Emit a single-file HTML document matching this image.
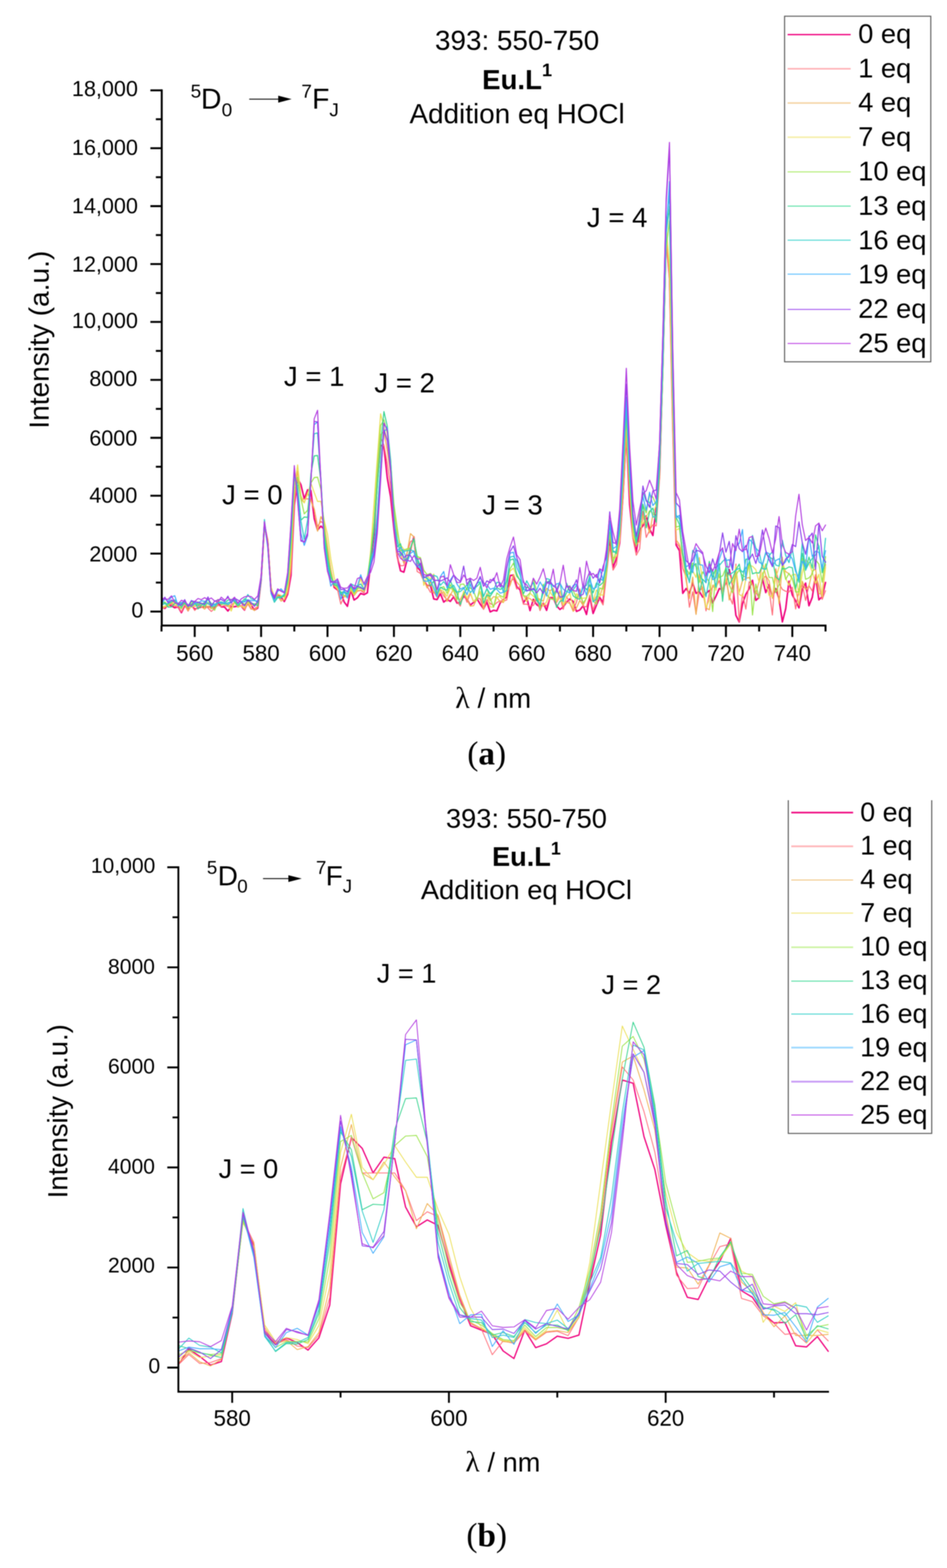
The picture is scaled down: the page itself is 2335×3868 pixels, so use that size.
<!DOCTYPE html>
<html lang="en"><head><meta charset="utf-8"><title>Figure</title>
<style>html,body{margin:0;padding:0;background:#fff}body{width:2335px;height:3868px;overflow:hidden}svg{display:block;filter:blur(0.9px)}text{white-space:pre}</style></head><body>
<svg width="2335" height="3868" viewBox="0 0 2335 3868">
<rect width="2335" height="3868" fill="#fff"/>
<clipPath id="clipA"><rect x="398.8" y="22.8" width="1639" height="1520.4"/></clipPath>
<g clip-path="url(#clipA)" fill="none" stroke-linejoin="round" stroke-linecap="round">
<polyline points="398.2,1496 406.4,1500.9 414.6,1491.6 422.8,1494.7 430.9,1499.2 439.1,1497.2 447.3,1511.3 455.5,1494.2 463.7,1501.4 471.9,1493.9 480.1,1502.5 488.3,1500 496.4,1497.5 504.6,1497.2 512.8,1497.1 521,1496.9 529.2,1501 537.4,1486.6 545.6,1497.1 553.7,1497.4 561.9,1507.3 570.1,1496.3 578.3,1496.6 586.5,1495.2 594.7,1494.9 602.9,1505 611,1482.2 619.2,1492.5 627.4,1505 635.6,1500 643.8,1431.5 652,1295 660.2,1335.7 668.4,1458.6 676.5,1475.7 684.7,1466.2 692.9,1472.9 701.1,1483.7 709.3,1466.2 717.5,1419.4 725.7,1246.2 733.8,1180 742,1195.6 750.2,1230.6 758.4,1208.3 766.6,1210.2 774.8,1279.3 783,1307.6 791.2,1297.8 799.3,1305.5 807.5,1361 815.7,1410 823.9,1449 832.1,1455.2 840.3,1461.5 848.5,1484.8 856.6,1495.7 864.8,1455.2 873,1480.1 881.2,1474.7 889.4,1463.7 897.6,1466.9 905.8,1462.2 913.9,1388.2 922.1,1319.3 930.3,1187.1 938.5,1098 946.7,1102.6 954.9,1178.9 963.1,1225.6 971.3,1305 979.4,1372.4 987.6,1408.2 995.8,1411.4 1004,1380.2 1012.2,1356.9 1020.4,1324.2 1028.6,1398.9 1036.7,1408.2 1044.9,1431.6 1053.1,1444.8 1061.3,1444 1069.5,1477.5 1077.7,1479.1 1085.9,1464.3 1094.1,1485.3 1102.2,1478.8 1110.4,1483.5 1118.6,1472.4 1126.8,1487.8 1135,1486.5 1143.2,1470.9 1151.4,1477.8 1159.5,1492.7 1167.7,1485.9 1175.9,1476.7 1184.1,1490.5 1192.3,1501.5 1200.5,1485.3 1208.7,1509.5 1216.9,1505.4 1225,1507 1233.2,1487.4 1241.4,1478.5 1249.6,1473 1257.8,1420 1266,1418.4 1274.2,1447.6 1282.3,1454.9 1290.5,1487.3 1298.7,1474 1306.9,1506.3 1315.1,1478.3 1323.3,1491.7 1331.5,1497 1339.6,1487.8 1347.8,1505.6 1356,1474.1 1364.2,1474.5 1372.4,1494.5 1380.6,1503.5 1388.8,1497.2 1397,1485.3 1405.1,1477.6 1413.3,1483.6 1421.5,1508.3 1429.7,1504.7 1437.9,1494.3 1446.1,1515.7 1454.3,1471.5 1462.4,1513.3 1470.6,1493 1478.8,1473.7 1487,1486.6 1495.2,1397.4 1503.4,1327.8 1511.6,1399.7 1519.8,1378 1527.9,1339.6 1536.1,1220.2 1544.3,1069 1552.5,1245 1560.7,1324.7 1568.9,1361.7 1577.1,1306.9 1585.2,1297.1 1593.4,1272.6 1601.6,1304.3 1609.8,1321 1618,1251.3 1626.2,1173.1 1634.4,898.3 1642.5,587.1 1650.7,679.2 1658.9,1046.3 1667.1,1344.4 1675.3,1358.6 1683.5,1463.7 1691.7,1451.9 1699.9,1463.7 1708,1437.8 1716.2,1463.7 1724.4,1459 1732.6,1473.1 1740.8,1463.7 1749,1456.6 1757.2,1487.2 1765.3,1470.7 1773.5,1451.9 1781.7,1454.3 1789.9,1437.8 1798.1,1404.8 1806.3,1442.5 1814.5,1517.8 1822.7,1534.3 1830.8,1489.6 1839,1466 1847.2,1452.3 1855.4,1431.6 1863.6,1481 1871.8,1473.7 1880,1427.6 1888.1,1461.8 1896.3,1442.5 1904.5,1472 1912.7,1451.9 1920.9,1477.6 1929.1,1534.1 1937.3,1501.5 1945.4,1433.7 1953.6,1467.7 1961.8,1482.1 1970,1499.5 1978.2,1453.8 1986.4,1438.5 1994.6,1494.3 2002.8,1473.5 2010.9,1421.5 2019.1,1479.7 2027.3,1471.6 2035.5,1436.8" stroke="#f0047f" stroke-width="3.9" stroke-opacity="1"/>
<polyline points="398.2,1501.6 406.4,1498.9 414.6,1490.7 422.8,1490.5 430.9,1494.9 439.1,1498.4 447.3,1509.1 455.5,1492.6 463.7,1507.5 471.9,1493.1 480.1,1505.9 488.3,1497 496.4,1491.6 504.6,1490.7 512.8,1500 521,1508.4 529.2,1500.7 537.4,1493 545.6,1496.2 553.7,1493.5 561.9,1496.1 570.1,1492 578.3,1486.3 586.5,1497.8 594.7,1485.1 602.9,1505 611,1489.9 619.2,1502.7 627.4,1501.5 635.6,1495.7 643.8,1430 652,1297.9 660.2,1330 668.4,1455 676.5,1472.9 684.7,1468.6 692.9,1477.9 701.1,1480 709.3,1462.2 717.5,1408.6 725.7,1237.1 733.8,1180 742,1230.6 750.2,1230.7 758.4,1230.7 766.6,1230.7 774.8,1255.9 783,1298.8 791.2,1286.2 799.3,1292.9 807.5,1355 815.7,1408.6 823.9,1445.9 832.1,1453.6 840.3,1490.2 848.5,1470.7 856.6,1473.9 864.8,1456.5 873,1469.2 881.2,1458.3 889.4,1456.7 897.6,1463 905.8,1436.5 913.9,1383.6 922.1,1301.4 930.3,1172.9 938.5,1079.3 946.7,1098 954.9,1143.1 963.1,1200.7 971.3,1294.3 979.4,1376.4 987.6,1395.8 995.8,1395 1004,1363.1 1012.2,1335.9 1020.4,1331.9 1028.6,1409.8 1036.7,1414.4 1044.9,1434.7 1053.1,1445.6 1061.3,1461.2 1069.5,1459.6 1077.7,1473.6 1085.9,1455 1094.1,1470.5 1102.2,1479.6 1110.4,1465.5 1118.6,1471 1126.8,1483.8 1135,1494.9 1143.2,1464.2 1151.4,1485.6 1159.5,1463.5 1167.7,1484.9 1175.9,1474.9 1184.1,1477.3 1192.3,1503.3 1200.5,1479.3 1208.7,1488.4 1216.9,1493.7 1225,1486.7 1233.2,1482.3 1241.4,1483 1249.6,1479.7 1257.8,1434.7 1266,1427.9 1274.2,1453 1282.3,1446.4 1290.5,1490.4 1298.7,1490.3 1306.9,1495.6 1315.1,1493.6 1323.3,1477.8 1331.5,1506.2 1339.6,1487.1 1347.8,1495.5 1356,1475 1364.2,1478.9 1372.4,1486.1 1380.6,1471.8 1388.8,1503.2 1397,1471.3 1405.1,1487.5 1413.3,1505.2 1421.5,1484.9 1429.7,1452.9 1437.9,1496.3 1446.1,1496.9 1454.3,1468.2 1462.4,1505 1470.6,1479 1478.8,1478 1487,1492.3 1495.2,1419.8 1503.4,1347.5 1511.6,1406.4 1519.8,1392.2 1527.9,1334.5 1536.1,1228.5 1544.3,1080 1552.5,1220.6 1560.7,1329.8 1568.9,1369.6 1577.1,1354 1585.2,1261.5 1593.4,1325.6 1601.6,1308.2 1609.8,1294.4 1618,1297.3 1626.2,1182 1634.4,917.1 1642.5,601.4 1650.7,692.1 1658.9,1054.4 1667.1,1338.8 1675.3,1348.3 1683.5,1402.5 1691.7,1422.8 1699.9,1498 1708,1459.9 1716.2,1514.3 1724.4,1459.1 1732.6,1448 1740.8,1506.9 1749,1462.4 1757.2,1447.2 1765.3,1449.5 1773.5,1432 1781.7,1473.5 1789.9,1428.9 1798.1,1470.3 1806.3,1490.2 1814.5,1391.6 1822.7,1533.6 1830.8,1464.7 1839,1502.6 1847.2,1435.4 1855.4,1441.3 1863.6,1459.8 1871.8,1476.4 1880,1428.4 1888.1,1420.9 1896.3,1453.2 1904.5,1517.2 1912.7,1403.4 1920.9,1439.4 1929.1,1454.2 1937.3,1458.6 1945.4,1460.8 1953.6,1448.5 1961.8,1502.2 1970,1453.4 1978.2,1442 1986.4,1481.2 1994.6,1444.3 2002.8,1458 2010.9,1417.3 2019.1,1444.8 2027.3,1478.6 2035.5,1457.1" stroke="#ff6e7a" stroke-width="2.6" stroke-opacity="1"/>
<polyline points="398.2,1498 406.4,1497.8 414.6,1495 422.8,1486.6 430.9,1494.5 439.1,1492.7 447.3,1493 455.5,1488.1 463.7,1506.1 471.9,1490.7 480.1,1496 488.3,1491.3 496.4,1496.6 504.6,1502.6 512.8,1494.9 521,1502.1 529.2,1495.7 537.4,1478.5 545.6,1490 553.7,1486 561.9,1490.3 570.1,1501.8 578.3,1483 586.5,1498 594.7,1494.9 602.9,1502.7 611,1487.5 619.2,1500.4 627.4,1506.2 635.6,1496.9 643.8,1428.6 652,1301.4 660.2,1331.4 668.4,1451.5 676.5,1474.3 684.7,1470 692.9,1482.9 701.1,1478.6 709.3,1458.6 717.5,1394.3 725.7,1222.9 733.8,1161.6 742,1230.6 750.2,1240.4 758.4,1215.1 766.6,1236.5 774.8,1255.9 783,1310.4 791.2,1274.4 799.3,1291 807.5,1347.9 815.7,1405 823.9,1444.3 832.1,1452.9 840.3,1462.9 848.5,1471.5 856.6,1472.9 864.8,1454.3 873,1468.6 881.2,1457.2 889.4,1455.7 897.6,1458.6 905.8,1437.2 913.9,1380 922.1,1297.9 930.3,1169.3 938.5,1072.3 946.7,1063.7 954.9,1112 963.1,1169.3 971.3,1287.2 979.4,1365.4 987.6,1366.2 995.8,1389.5 1004,1362.2 1012.2,1316.4 1020.4,1324.2 1028.6,1386.4 1036.7,1400.4 1044.9,1430 1053.1,1450.2 1061.3,1434.7 1069.5,1462.7 1077.7,1462.7 1085.9,1462.7 1094.1,1461.2 1102.2,1483.7 1110.4,1468.7 1118.6,1451.7 1126.8,1475.8 1135,1479.1 1143.2,1461.5 1151.4,1476.5 1159.5,1495.2 1167.7,1494.2 1175.9,1476.8 1184.1,1459.6 1192.3,1501.4 1200.5,1464 1208.7,1481.9 1216.9,1471.8 1225,1473.2 1233.2,1484.5 1241.4,1486.3 1249.6,1457.3 1257.8,1443.8 1266,1417 1274.2,1436 1282.3,1444.8 1290.5,1469.5 1298.7,1475.5 1306.9,1476.5 1315.1,1484.3 1323.3,1474.9 1331.5,1478.5 1339.6,1483.1 1347.8,1451 1356,1457.7 1364.2,1451.1 1372.4,1485.4 1380.6,1457.3 1388.8,1492.1 1397,1485.4 1405.1,1488.9 1413.3,1508.1 1421.5,1499.5 1429.7,1481 1437.9,1493.5 1446.1,1475.2 1454.3,1453.1 1462.4,1484.1 1470.6,1471.4 1478.8,1472.3 1487,1443.9 1495.2,1409.9 1503.4,1316 1511.6,1376.5 1519.8,1372.2 1527.9,1320.4 1536.1,1209.9 1544.3,1058.6 1552.5,1213.9 1560.7,1316.5 1568.9,1344.5 1577.1,1334.7 1585.2,1271.5 1593.4,1286.1 1601.6,1314.7 1609.8,1270.5 1618,1265.2 1626.2,1175.6 1634.4,881.9 1642.5,579.9 1650.7,672.8 1658.9,1035.6 1667.1,1331.8 1675.3,1343.3 1683.5,1373.7 1691.7,1431.9 1699.9,1476.5 1708,1423.5 1716.2,1515.7 1724.4,1415.4 1732.6,1461.2 1740.8,1499.9 1749,1504.2 1757.2,1443.9 1765.3,1444.3 1773.5,1418.2 1781.7,1458.8 1789.9,1410.8 1798.1,1480.3 1806.3,1442.4 1814.5,1413.5 1822.7,1461.6 1830.8,1432.2 1839,1426.8 1847.2,1424.4 1855.4,1442.7 1863.6,1464.8 1871.8,1433 1880,1388.8 1888.1,1419.6 1896.3,1432.7 1904.5,1476.1 1912.7,1405.4 1920.9,1489.5 1929.1,1390.4 1937.3,1410.2 1945.4,1415.4 1953.6,1428.2 1961.8,1451.6 1970,1493.6 1978.2,1433.8 1986.4,1454.9 1994.6,1445.4 2002.8,1409.7 2010.9,1403.4 2019.1,1465 2027.3,1462.8 2035.5,1392" stroke="#f0b050" stroke-width="2.6" stroke-opacity="1"/>
<polyline points="398.2,1499.8 406.4,1494.9 414.6,1492.9 422.8,1483.9 430.9,1489.3 439.1,1493.3 447.3,1501 455.5,1484.7 463.7,1496.6 471.9,1498.2 480.1,1492.3 488.3,1484.6 496.4,1491.2 504.6,1487.9 512.8,1489.4 521,1496.1 529.2,1495.3 537.4,1483 545.6,1488.3 553.7,1487.8 561.9,1493.1 570.1,1507.4 578.3,1485.6 586.5,1495.8 594.7,1495.8 602.9,1497.9 611,1485 619.2,1494.3 627.4,1492.2 635.6,1490.7 643.8,1426.4 652,1300 660.2,1337.2 668.4,1447.9 676.5,1471.5 684.7,1465.7 692.9,1468.6 701.1,1474.3 709.3,1448.6 717.5,1372.9 725.7,1201.4 733.8,1146.9 742,1222.9 750.2,1240.4 758.4,1218.9 766.6,1191.7 774.8,1215.1 783,1236.9 791.2,1236.9 799.3,1283.2 807.5,1318.2 815.7,1378.9 823.9,1424.1 832.1,1451.5 840.3,1461.5 848.5,1470 856.6,1471.5 864.8,1451.5 873,1467.2 881.2,1455 889.4,1426.4 897.6,1457.2 905.8,1433.6 913.9,1358.6 922.1,1244.3 930.3,1130 938.5,1020.9 946.7,1054.3 954.9,1087.1 963.1,1158.6 971.3,1258.6 979.4,1315.7 987.6,1344.4 995.8,1355.3 1004,1356.9 1012.2,1353.7 1020.4,1331.9 1028.6,1370.9 1036.7,1378.7 1044.9,1444 1053.1,1420.7 1061.3,1428.4 1069.5,1416 1077.7,1473.6 1085.9,1454.3 1094.1,1458.6 1102.2,1470.9 1110.4,1449.3 1118.6,1459.2 1126.8,1460.6 1135,1491.7 1143.2,1457.8 1151.4,1475.2 1159.5,1461.3 1167.7,1484.1 1175.9,1478.1 1184.1,1458.9 1192.3,1478.6 1200.5,1467.5 1208.7,1497.3 1216.9,1497.5 1225,1473.1 1233.2,1471.4 1241.4,1484.3 1249.6,1449.5 1257.8,1408.7 1266,1401.6 1274.2,1421.9 1282.3,1431.5 1290.5,1468.2 1298.7,1484.2 1306.9,1463.4 1315.1,1470.5 1323.3,1478.8 1331.5,1481.7 1339.6,1495.7 1347.8,1484 1356,1459.8 1364.2,1472.9 1372.4,1482.4 1380.6,1471.5 1388.8,1493.1 1397,1473.4 1405.1,1463.6 1413.3,1499.3 1421.5,1464.3 1429.7,1476.8 1437.9,1475.7 1446.1,1474.6 1454.3,1442.6 1462.4,1483.2 1470.6,1455.3 1478.8,1466.8 1487,1468.4 1495.2,1390.9 1503.4,1314.8 1511.6,1382.6 1519.8,1371.6 1527.9,1333.3 1536.1,1179.7 1544.3,1037.1 1552.5,1199.5 1560.7,1322.1 1568.9,1346.3 1577.1,1283.4 1585.2,1292.2 1593.4,1274.8 1601.6,1259.9 1609.8,1267.2 1618,1245.7 1626.2,1146.1 1634.4,886.2 1642.5,558.5 1650.7,653.5 1658.9,1031.3 1667.1,1307.6 1675.3,1303.5 1683.5,1376.4 1691.7,1423.4 1699.9,1413.6 1708,1407.5 1716.2,1424.7 1724.4,1375.4 1732.6,1438.9 1740.8,1498.9 1749,1480.7 1757.2,1405.3 1765.3,1456.3 1773.5,1415.6 1781.7,1468.1 1789.9,1428 1798.1,1416.1 1806.3,1438.8 1814.5,1396.2 1822.7,1466.4 1830.8,1471 1839,1428.2 1847.2,1395 1855.4,1396.8 1863.6,1405.3 1871.8,1437.2 1880,1412.1 1888.1,1439.1 1896.3,1469 1904.5,1472.2 1912.7,1425.7 1920.9,1398.9 1929.1,1374.4 1937.3,1426.2 1945.4,1444.6 1953.6,1417.6 1961.8,1416.9 1970,1468.1 1978.2,1413.6 1986.4,1380.5 1994.6,1388.6 2002.8,1411.1 2010.9,1440 2019.1,1416.5 2027.3,1472 2035.5,1399.3" stroke="#ece058" stroke-width="2.6" stroke-opacity="1"/>
<polyline points="398.2,1494 406.4,1485 414.6,1492.5 422.8,1485 430.9,1482.8 439.1,1493.7 447.3,1501.7 455.5,1480.1 463.7,1499.4 471.9,1484.2 480.1,1488.3 488.3,1490.4 496.4,1487.7 504.6,1497.9 512.8,1486 521,1497 529.2,1505.6 537.4,1485.3 545.6,1491.8 553.7,1489.5 561.9,1493.5 570.1,1484.8 578.3,1479.2 586.5,1495 594.7,1485.3 602.9,1490.7 611,1484 619.2,1487.9 627.4,1489.9 635.6,1488.7 643.8,1427.9 652,1297.9 660.2,1340.7 668.4,1458.6 676.5,1480 684.7,1471.5 692.9,1471.5 701.1,1472 709.3,1438.9 717.5,1351.4 725.7,1185.9 733.8,1177.1 742,1230.6 750.2,1267.6 758.4,1258.9 766.6,1191.7 774.8,1178.1 783,1177.1 791.2,1207.3 799.3,1301.4 807.5,1365.7 815.7,1415.7 823.9,1440.7 832.1,1447.9 840.3,1460 848.5,1468.6 856.6,1470 864.8,1447.9 873,1464.3 881.2,1451.5 889.4,1451.5 897.6,1455 905.8,1422.9 913.9,1369.3 922.1,1287.2 930.3,1158.6 938.5,1049.7 946.7,1035.7 954.9,1068.3 963.1,1137.1 971.3,1244.3 979.4,1302.4 987.6,1358.4 995.8,1356.9 1004,1353.7 1012.2,1352.2 1020.4,1330.4 1028.6,1373.9 1036.7,1375.5 1044.9,1406.7 1053.1,1417.6 1061.3,1414.4 1069.5,1423.8 1077.7,1462.7 1085.9,1450.2 1094.1,1447.2 1102.2,1463.5 1110.4,1442.3 1118.6,1457.4 1126.8,1479.8 1135,1441.8 1143.2,1440.7 1151.4,1455.2 1159.5,1450 1167.7,1458 1175.9,1481.2 1184.1,1445.6 1192.3,1470.5 1200.5,1452.2 1208.7,1475.5 1216.9,1498 1225,1462.7 1233.2,1469.2 1241.4,1473.3 1249.6,1429.4 1257.8,1402.9 1266,1389.3 1274.2,1414.8 1282.3,1433.5 1290.5,1469.5 1298.7,1470.8 1306.9,1462.4 1315.1,1427.8 1323.3,1458.7 1331.5,1502.6 1339.6,1441.2 1347.8,1466 1356,1477 1364.2,1479 1372.4,1457.7 1380.6,1473.2 1388.8,1473.2 1397,1441.1 1405.1,1450.7 1413.3,1456.7 1421.5,1475 1429.7,1462.9 1437.9,1487.6 1446.1,1475.2 1454.3,1416.8 1462.4,1482.6 1470.6,1490.6 1478.8,1450.4 1487,1453.2 1495.2,1417 1503.4,1312.4 1511.6,1389.5 1519.8,1354.2 1527.9,1315.7 1536.1,1163.3 1544.3,1030 1552.5,1191.6 1560.7,1299.5 1568.9,1346.7 1577.1,1270 1585.2,1243.9 1593.4,1265.4 1601.6,1221.3 1609.8,1226.1 1618,1246.8 1626.2,1154.4 1634.4,926.5 1642.5,611.7 1650.7,544.2 1658.9,954.7 1667.1,1300.2 1675.3,1297.8 1683.5,1364 1691.7,1402.6 1699.9,1416.1 1708,1389.1 1716.2,1397.6 1724.4,1436.7 1732.6,1410.6 1740.8,1423.6 1749,1436 1757.2,1508.6 1765.3,1404.5 1773.5,1424.6 1781.7,1420.7 1789.9,1401.3 1798.1,1442.7 1806.3,1462.3 1814.5,1418.4 1822.7,1406.1 1830.8,1420.1 1839,1424.1 1847.2,1385.6 1855.4,1517.2 1863.6,1440.9 1871.8,1476.1 1880,1424.2 1888.1,1390.7 1896.3,1424.5 1904.5,1424.7 1912.7,1462 1920.9,1441.4 1929.1,1394.2 1937.3,1429.5 1945.4,1414.4 1953.6,1426.8 1961.8,1460.4 1970,1459.8 1978.2,1376.8 1986.4,1429 1994.6,1425.6 2002.8,1416.1 2010.9,1381.1 2019.1,1391.5 2027.3,1436.3 2035.5,1373.1" stroke="#9ce44e" stroke-width="2.6" stroke-opacity="1"/>
<polyline points="398.2,1483.9 406.4,1487.1 414.6,1497.6 422.8,1497.3 430.9,1488.6 439.1,1487.2 447.3,1497.5 455.5,1487.7 463.7,1496.6 471.9,1490.1 480.1,1484.6 488.3,1502.1 496.4,1493.6 504.6,1484.7 512.8,1478 521,1488.8 529.2,1490.4 537.4,1487.8 545.6,1484.8 553.7,1487.8 561.9,1480.5 570.1,1478.5 578.3,1484.4 586.5,1494.3 594.7,1486.8 602.9,1477 611,1481.5 619.2,1487.2 627.4,1490.7 635.6,1494.3 643.8,1430 652,1294.3 660.2,1344.3 668.4,1462.2 676.5,1485.7 684.7,1474.3 692.9,1475 701.1,1468.6 709.3,1431.1 717.5,1330 725.7,1172.2 733.8,1197.6 742,1283.2 750.2,1275.4 758.4,1276.4 766.6,1168.4 774.8,1124.6 783,1123.6 791.2,1187.1 799.3,1315.7 807.5,1376.4 815.7,1422.9 823.9,1442.9 832.1,1444.3 840.3,1462.2 848.5,1458.6 856.6,1464.3 864.8,1444.3 873,1458.6 881.2,1447.9 889.4,1447.9 897.6,1455.7 905.8,1430 913.9,1376.4 922.1,1308.6 930.3,1201.4 938.5,1096.4 946.7,1015.4 954.9,1051.3 963.1,1133.6 971.3,1269.3 979.4,1349.1 987.6,1341.3 995.8,1378.7 1004,1383.3 1012.2,1350.7 1020.4,1328.8 1028.6,1375.5 1036.7,1397.3 1044.9,1422.2 1053.1,1426.9 1061.3,1445.6 1069.5,1433.2 1077.7,1467.4 1085.9,1448.7 1094.1,1453.4 1102.2,1455.7 1110.4,1432.7 1118.6,1452.3 1126.8,1463.5 1135,1491.8 1143.2,1466.7 1151.4,1451 1159.5,1432.8 1167.7,1452.8 1175.9,1446.4 1184.1,1438.1 1192.3,1488.2 1200.5,1468.1 1208.7,1470.7 1216.9,1458.3 1225,1449.8 1233.2,1454.1 1241.4,1449.5 1249.6,1433.4 1257.8,1381.5 1266,1378.8 1274.2,1420.8 1282.3,1430.4 1290.5,1465 1298.7,1448.4 1306.9,1452.4 1315.1,1460.5 1323.3,1481.5 1331.5,1490.3 1339.6,1461.8 1347.8,1436.3 1356,1432 1364.2,1462.1 1372.4,1498.4 1380.6,1483.3 1388.8,1480.1 1397,1461.6 1405.1,1445.2 1413.3,1469.9 1421.5,1476 1429.7,1478.2 1437.9,1441.9 1446.1,1455 1454.3,1443.1 1462.4,1462.3 1470.6,1438.2 1478.8,1444.2 1487,1436.7 1495.2,1396.2 1503.4,1285.4 1511.6,1358.4 1519.8,1365.6 1527.9,1305.1 1536.1,1172.7 1544.3,1008.6 1552.5,1166.9 1560.7,1288.2 1568.9,1339.7 1577.1,1304.2 1585.2,1243.9 1593.4,1302.1 1601.6,1262.4 1609.8,1253.4 1618,1288.6 1626.2,1152.1 1634.4,892 1642.5,578.5 1650.7,508.5 1658.9,955.2 1667.1,1275.8 1675.3,1293.9 1683.5,1369.2 1691.7,1415 1699.9,1434.6 1708,1395.3 1716.2,1390.4 1724.4,1460.1 1732.6,1428.8 1740.8,1437.7 1749,1384.8 1757.2,1425 1765.3,1400.8 1773.5,1390.2 1781.7,1483.5 1789.9,1397.7 1798.1,1442.3 1806.3,1426.1 1814.5,1405.6 1822.7,1391.6 1830.8,1433 1839,1379.6 1847.2,1379.4 1855.4,1415.6 1863.6,1412.8 1871.8,1413.6 1880,1394.2 1888.1,1365 1896.3,1374 1904.5,1378.3 1912.7,1423.1 1920.9,1430.5 1929.1,1402.1 1937.3,1403.4 1945.4,1398.5 1953.6,1400.4 1961.8,1452 1970,1412.6 1978.2,1365.1 1986.4,1406.9 1994.6,1374.2 2002.8,1401.6 2010.9,1319.5 2019.1,1349.5 2027.3,1413 2035.5,1385.1" stroke="#38d490" stroke-width="2.6" stroke-opacity="1"/>
<polyline points="398.2,1491.6 406.4,1489.3 414.6,1489.4 422.8,1484.2 430.9,1479.5 439.1,1490.2 447.3,1486.4 455.5,1484.9 463.7,1491.5 471.9,1496.6 480.1,1489.6 488.3,1493.8 496.4,1488.1 504.6,1493.8 512.8,1477.4 521,1496 529.2,1495.4 537.4,1486.5 545.6,1485.1 553.7,1490.1 561.9,1486.7 570.1,1484.9 578.3,1475.8 586.5,1490.1 594.7,1487.7 602.9,1482.9 611,1466.5 619.2,1477 627.4,1479.4 635.6,1487.5 643.8,1428.6 652,1281.5 660.2,1347.9 668.4,1464.3 676.5,1485 684.7,1472.9 692.9,1472.9 701.1,1465.7 709.3,1425.7 717.5,1315.7 725.7,1168.4 733.8,1207.3 742,1285.2 750.2,1329.9 758.4,1283.2 766.6,1180 774.8,1070 783,1068.1 791.2,1180 799.3,1330 807.5,1387.2 815.7,1433.6 823.9,1438.6 832.1,1440.7 840.3,1465.7 848.5,1462.2 856.6,1465.7 864.8,1440 873,1444.3 881.2,1445.7 889.4,1440.7 897.6,1452.9 905.8,1433.6 913.9,1387.2 922.1,1351.4 930.3,1265.7 938.5,1144.3 946.7,1048.1 954.9,1055 963.1,1144.3 971.3,1280 979.4,1330 987.6,1370.9 995.8,1359.9 1004,1358.4 1012.2,1356.9 1020.4,1359.2 1028.6,1381.7 1036.7,1403.6 1044.9,1423.8 1053.1,1425.4 1061.3,1434.7 1069.5,1419.2 1077.7,1422.2 1085.9,1444 1094.1,1434.7 1102.2,1445.8 1110.4,1450.8 1118.6,1443.7 1126.8,1460.4 1135,1459.1 1143.2,1451.8 1151.4,1442.8 1159.5,1462 1167.7,1453.6 1175.9,1439 1184.1,1435.3 1192.3,1471.6 1200.5,1452 1208.7,1465 1216.9,1456.5 1225,1436.5 1233.2,1437.4 1241.4,1461.3 1249.6,1456.6 1257.8,1374 1266,1372.4 1274.2,1382.8 1282.3,1412.1 1290.5,1455.2 1298.7,1432.8 1306.9,1448.2 1315.1,1436.9 1323.3,1475.9 1331.5,1492.1 1339.6,1453.2 1347.8,1427.3 1356,1429.9 1364.2,1468.6 1372.4,1453.6 1380.6,1435 1388.8,1484.4 1397,1438.7 1405.1,1461.1 1413.3,1454.6 1421.5,1443.8 1429.7,1470.3 1437.9,1450.1 1446.1,1444 1454.3,1421.4 1462.4,1484.8 1470.6,1477.6 1478.8,1426.8 1487,1432.3 1495.2,1385.8 1503.4,1294.7 1511.6,1362.2 1519.8,1359.2 1527.9,1288.4 1536.1,1163.9 1544.3,997.8 1552.5,1171 1560.7,1278.4 1568.9,1331.2 1577.1,1288.1 1585.2,1214 1593.4,1236.6 1601.6,1238.9 1609.8,1275.8 1618,1272.6 1626.2,1139.7 1634.4,894.6 1642.5,551.9 1650.7,479.9 1658.9,919.6 1667.1,1270.8 1675.3,1279.7 1683.5,1327.1 1691.7,1401.8 1699.9,1437.5 1708,1357.6 1716.2,1367.5 1724.4,1413.2 1732.6,1434.6 1740.8,1472 1749,1427.4 1757.2,1405.5 1765.3,1448.7 1773.5,1395.1 1781.7,1385.1 1789.9,1377.1 1798.1,1418.1 1806.3,1412.7 1814.5,1406 1822.7,1402 1830.8,1411.4 1839,1401.8 1847.2,1387.5 1855.4,1320.9 1863.6,1351.8 1871.8,1360.8 1880,1402.9 1888.1,1404.4 1896.3,1370.6 1904.5,1360.8 1912.7,1393.7 1920.9,1396.5 1929.1,1332.8 1937.3,1370.2 1945.4,1387.9 1953.6,1354.5 1961.8,1403.6 1970,1436.5 1978.2,1338.3 1986.4,1406.3 1994.6,1389.2 2002.8,1377.4 2010.9,1369.1 2019.1,1346.1 2027.3,1408 2035.5,1327.9" stroke="#30ccc8" stroke-width="2.6" stroke-opacity="1"/>
<polyline points="398.2,1490.1 406.4,1477.2 414.6,1483.5 422.8,1472.9 430.9,1469.5 439.1,1494.4 447.3,1488.6 455.5,1482.6 463.7,1495.6 471.9,1481.1 480.1,1487.9 488.3,1487.6 496.4,1482.1 504.6,1483.2 512.8,1489.2 521,1494 529.2,1491.5 537.4,1486 545.6,1488.9 553.7,1485.9 561.9,1491.3 570.1,1484.2 578.3,1480.6 586.5,1487.7 594.7,1483.1 602.9,1485 611,1479.4 619.2,1481.7 627.4,1481.7 635.6,1482.9 643.8,1426.4 652,1290.7 660.2,1351.4 668.4,1462.9 676.5,1480 684.7,1458.6 692.9,1452.5 701.1,1462.2 709.3,1419.3 717.5,1305 725.7,1164.4 733.8,1222.9 742,1315.7 750.2,1345.4 758.4,1322.1 766.6,1187.1 774.8,1047.6 783,1040.8 791.2,1183.6 799.3,1344.3 807.5,1401.4 815.7,1445.9 823.9,1433.4 832.1,1432.6 840.3,1478.5 848.5,1456 856.6,1475.5 864.8,1441.2 873,1459.9 881.2,1445.9 889.4,1417.8 897.6,1442.7 905.8,1433.4 913.9,1396 922.1,1357.2 930.3,1287.2 938.5,1158.6 946.7,1065.3 954.9,1055.9 963.1,1151.4 971.3,1297.9 979.4,1358.4 987.6,1350.7 995.8,1359.9 1004,1386.4 1012.2,1364.7 1020.4,1359.9 1028.6,1397.3 1036.7,1402 1044.9,1433.2 1053.1,1434 1061.3,1430 1069.5,1450.2 1077.7,1472.1 1085.9,1422.2 1094.1,1409.8 1102.2,1450.3 1110.4,1430.7 1118.6,1418.2 1126.8,1440.8 1135,1453.4 1143.2,1449.1 1151.4,1467.1 1159.5,1440.7 1167.7,1464.1 1175.9,1439 1184.1,1425.5 1192.3,1439.1 1200.5,1442.2 1208.7,1453.7 1216.9,1451.1 1225,1453.7 1233.2,1463.2 1241.4,1461 1249.6,1402.7 1257.8,1364.6 1266,1362.3 1274.2,1400.1 1282.3,1418.5 1290.5,1452.1 1298.7,1458.7 1306.9,1451.9 1315.1,1455.3 1323.3,1456 1331.5,1435.4 1339.6,1449.1 1347.8,1470.6 1356,1432 1364.2,1446.9 1372.4,1440.6 1380.6,1438.4 1388.8,1453.5 1397,1458.9 1405.1,1462.7 1413.3,1444.2 1421.5,1441 1429.7,1473.4 1437.9,1442.6 1446.1,1468.5 1454.3,1429.1 1462.4,1453 1470.6,1448.4 1478.8,1403.7 1487,1430.6 1495.2,1391.8 1503.4,1284.6 1511.6,1353.1 1519.8,1348.2 1527.9,1298 1536.1,1134.8 1544.3,980 1552.5,1152.7 1560.7,1268.2 1568.9,1323.1 1577.1,1279.5 1585.2,1224.7 1593.4,1258.9 1601.6,1214.4 1609.8,1247.1 1618,1237.4 1626.2,1116 1634.4,877.8 1642.5,575.1 1650.7,447.8 1658.9,921 1667.1,1277.3 1675.3,1271.1 1683.5,1327.7 1691.7,1398.5 1699.9,1392.8 1708,1412.9 1716.2,1352 1724.4,1392.7 1732.6,1394.3 1740.8,1437.2 1749,1396 1757.2,1429.9 1765.3,1425.4 1773.5,1379.7 1781.7,1356 1789.9,1383.1 1798.1,1380.7 1806.3,1406.9 1814.5,1348.1 1822.7,1340.4 1830.8,1306.2 1839,1431.3 1847.2,1330.1 1855.4,1338.3 1863.6,1353.1 1871.8,1386.9 1880,1391.6 1888.1,1362 1896.3,1365.6 1904.5,1398 1912.7,1382.9 1920.9,1378.3 1929.1,1394.6 1937.3,1385.6 1945.4,1366.1 1953.6,1379 1961.8,1409.8 1970,1427 1978.2,1383.7 1986.4,1398.5 1994.6,1322 2002.8,1373.2 2010.9,1359.5 2019.1,1362.6 2027.3,1401.8 2035.5,1358.3" stroke="#40acfc" stroke-width="2.6" stroke-opacity="1"/>
<polyline points="398.2,1484.8 406.4,1473.2 414.6,1487 422.8,1480 430.9,1485.6 439.1,1490.4 447.3,1492.9 455.5,1479.2 463.7,1496.2 471.9,1482.1 480.1,1484 488.3,1485.7 496.4,1488.3 504.6,1490 512.8,1472.5 521,1494.5 529.2,1482.9 537.4,1479.9 545.6,1478.6 553.7,1483.8 561.9,1470.6 570.1,1488 578.3,1475.6 586.5,1480.2 594.7,1485.6 602.9,1494.5 611,1480.5 619.2,1486.4 627.4,1495.7 635.6,1482.9 643.8,1422.9 652,1288.6 660.2,1344.3 668.4,1460 676.5,1476.5 684.7,1454.3 692.9,1457.2 701.1,1462.9 709.3,1415.7 717.5,1294.3 725.7,1156.6 733.8,1230 742,1334.7 750.2,1336.7 758.4,1314.3 766.6,1187.1 774.8,1039.8 783,1040.8 791.2,1190.7 799.3,1347.9 807.5,1407.2 815.7,1433.4 823.9,1436.5 832.1,1436.5 840.3,1454.4 848.5,1453.6 856.6,1459.9 864.8,1441.2 873,1453.6 881.2,1445.9 889.4,1449.7 897.6,1453.6 905.8,1430.3 913.9,1399.2 922.1,1368 930.3,1301.4 938.5,1172.9 946.7,1060.6 954.9,1087.1 963.1,1162.1 971.3,1301.4 979.4,1359.9 987.6,1361.5 995.8,1375.5 1004,1369.3 1012.2,1370.9 1020.4,1386.4 1028.6,1398.9 1036.7,1389.5 1044.9,1425.4 1053.1,1420.7 1061.3,1419.2 1069.5,1431.6 1077.7,1431.6 1085.9,1433.2 1094.1,1430 1102.2,1425.5 1110.4,1436.1 1118.6,1418.2 1126.8,1427.5 1135,1434.4 1143.2,1396.5 1151.4,1442.4 1159.5,1428.3 1167.7,1453.6 1175.9,1438.8 1184.1,1422.2 1192.3,1446.4 1200.5,1432.9 1208.7,1437.7 1216.9,1426.2 1225,1448.6 1233.2,1440.4 1241.4,1448.1 1249.6,1399.3 1257.8,1360.3 1266,1346.6 1274.2,1375.6 1282.3,1399.6 1290.5,1432.5 1298.7,1456.6 1306.9,1456.4 1315.1,1451.3 1323.3,1462.7 1331.5,1451.2 1339.6,1464.3 1347.8,1438.5 1356,1434.7 1364.2,1444.8 1372.4,1451.7 1380.6,1473.2 1388.8,1471.5 1397,1444.5 1405.1,1456.6 1413.3,1448.5 1421.5,1430.3 1429.7,1470.2 1437.9,1465.9 1446.1,1430.4 1454.3,1409.5 1462.4,1426.5 1470.6,1417 1478.8,1438 1487,1397.1 1495.2,1373.9 1503.4,1262.6 1511.6,1339 1519.8,1340.3 1527.9,1269.6 1536.1,1098.8 1544.3,947.8 1552.5,1113.3 1560.7,1267.5 1568.9,1323.5 1577.1,1281.8 1585.2,1198.8 1593.4,1233 1601.6,1251.4 1609.8,1211.1 1618,1208.9 1626.2,1096.3 1634.4,824.6 1642.5,502.8 1650.7,365.6 1658.9,870.9 1667.1,1240.6 1675.3,1250.3 1683.5,1327.1 1691.7,1383 1699.9,1391.4 1708,1382.5 1716.2,1357.6 1724.4,1359.2 1732.6,1366.4 1740.8,1396.4 1749,1412.8 1757.2,1378.6 1765.3,1404.3 1773.5,1366.1 1781.7,1314.5 1789.9,1362.1 1798.1,1335.4 1806.3,1406.6 1814.5,1321.6 1822.7,1353.4 1830.8,1361 1839,1345.4 1847.2,1380.9 1855.4,1366.7 1863.6,1390.1 1871.8,1359.6 1880,1307.2 1888.1,1358 1896.3,1380.6 1904.5,1397.6 1912.7,1297.5 1920.9,1301.4 1929.1,1395.5 1937.3,1378.7 1945.4,1373.6 1953.6,1343.1 1961.8,1348.3 1970,1287.2 1978.2,1338.7 1986.4,1367.3 1994.6,1325.6 2002.8,1315 2010.9,1404.3 2019.1,1290.6 2027.3,1371.8 2035.5,1387.4" stroke="#8c42ec" stroke-width="2.6" stroke-opacity="1"/>
<polyline points="398.2,1474.7 406.4,1477.8 414.6,1478.4 422.8,1469.8 430.9,1486.1 439.1,1489.8 447.3,1480.8 455.5,1484 463.7,1492.3 471.9,1495 480.1,1483.7 488.3,1476.4 496.4,1479.4 504.6,1474.4 512.8,1479 521,1475.1 529.2,1482.5 537.4,1485.3 545.6,1473.1 553.7,1480.3 561.9,1474.6 570.1,1480.7 578.3,1473.2 586.5,1487.9 594.7,1477.4 602.9,1472.4 611,1470.6 619.2,1471.7 627.4,1478.7 635.6,1470 643.8,1420.7 652,1286.7 660.2,1340.7 668.4,1457.2 676.5,1471.5 684.7,1452.5 692.9,1458.6 701.1,1462.2 709.3,1411.7 717.5,1289 725.7,1148.5 733.8,1237.1 742,1331.8 750.2,1337.7 758.4,1320.2 766.6,1187.1 774.8,1033.1 783,1012.1 791.2,1187.9 799.3,1351.4 807.5,1409.7 815.7,1436.5 823.9,1436.5 832.1,1427.9 840.3,1449 848.5,1451.3 856.6,1450.5 864.8,1440.4 873,1452.1 881.2,1427.2 889.4,1424 897.6,1439.6 905.8,1422.5 913.9,1411.6 922.1,1386.7 930.3,1315.7 938.5,1187.1 946.7,1043.5 954.9,1062.1 963.1,1158.6 971.3,1297.9 979.4,1361.4 987.6,1377.1 995.8,1383.3 1004,1381.7 1012.2,1384.9 1020.4,1370.9 1028.6,1378.7 1036.7,1378.7 1044.9,1417.6 1053.1,1419.2 1061.3,1416 1069.5,1423.8 1077.7,1455 1085.9,1423.8 1094.1,1421.4 1102.2,1444.8 1110.4,1393.1 1118.6,1417.7 1126.8,1436.9 1135,1437 1143.2,1418.4 1151.4,1430.7 1159.5,1426.2 1167.7,1432 1175.9,1426.2 1184.1,1399.6 1192.3,1437 1200.5,1450.1 1208.7,1429.6 1216.9,1432.5 1225,1412.7 1233.2,1448.2 1241.4,1430.3 1249.6,1378.2 1257.8,1349.1 1266,1324.8 1274.2,1368.8 1282.3,1380.4 1290.5,1436.9 1298.7,1442.8 1306.9,1455.1 1315.1,1426.4 1323.3,1441 1331.5,1424.1 1339.6,1402.9 1347.8,1437.1 1356,1440.6 1364.2,1404.1 1372.4,1461 1380.6,1438.6 1388.8,1394.3 1397,1447.1 1405.1,1446.4 1413.3,1456.5 1421.5,1458.7 1429.7,1400 1437.9,1451.5 1446.1,1384.3 1454.3,1418.3 1462.4,1414.7 1470.6,1424.4 1478.8,1403.1 1487,1408.8 1495.2,1355.6 1503.4,1269.2 1511.6,1312.9 1519.8,1344.5 1527.9,1255.8 1536.1,1090.4 1544.3,908.5 1552.5,1101.8 1560.7,1236.6 1568.9,1295.3 1577.1,1255 1585.2,1218.6 1593.4,1210.4 1601.6,1184.5 1609.8,1205 1618,1231.3 1626.2,1092.5 1634.4,822.5 1642.5,490.2 1650.7,351.4 1658.9,859.7 1667.1,1215.4 1675.3,1233.1 1683.5,1311.2 1691.7,1357.7 1699.9,1404.5 1708,1366.4 1716.2,1341.1 1724.4,1353.8 1732.6,1362.8 1740.8,1420.1 1749,1390.4 1757.2,1409.1 1765.3,1390.6 1773.5,1363.2 1781.7,1351.3 1789.9,1397 1798.1,1399.4 1806.3,1340.9 1814.5,1358.4 1822.7,1305.4 1830.8,1357 1839,1355.4 1847.2,1326.2 1855.4,1323.1 1863.6,1373 1871.8,1370.8 1880,1330.5 1888.1,1302.7 1896.3,1328.5 1904.5,1364 1912.7,1328.9 1920.9,1274.3 1929.1,1344.2 1937.3,1362.8 1945.4,1367 1953.6,1361.3 1961.8,1272.9 1970,1219.3 1978.2,1294.3 1986.4,1333.4 1994.6,1325.7 2002.8,1339.5 2010.9,1297.2 2019.1,1290.6 2027.3,1309.3 2035.5,1295.1" stroke="#b23ee0" stroke-width="2.6" stroke-opacity="1"/>
</g>
<g stroke="#000" stroke-width="4.8" fill="none" stroke-linecap="butt">
<path d="M398.8 220.4 V1543.2 H2037.8"/>
<path d="M398.8 1508.6H370.8 M398.8 1437.2H384.3 M398.8 1365.7H370.8 M398.8 1294.3H384.3 M398.8 1222.9H370.8 M398.8 1151.4H384.3 M398.8 1080H370.8 M398.8 1008.6H384.3 M398.8 937.1H370.8 M398.8 865.7H384.3 M398.8 794.2H370.8 M398.8 722.8H384.3 M398.8 651.4H370.8 M398.8 579.9H384.3 M398.8 508.5H370.8 M398.8 437.1H384.3 M398.8 365.6H370.8 M398.8 294.2H384.3 M398.8 222.8H370.8 M398.2 1543.2V1557.7 M480.1 1543.2V1571.2 M561.9 1543.2V1557.7 M643.8 1543.2V1571.2 M725.7 1543.2V1557.7 M807.5 1543.2V1571.2 M889.4 1543.2V1557.7 M971.3 1543.2V1571.2 M1053.1 1543.2V1557.7 M1135 1543.2V1571.2 M1216.9 1543.2V1557.7 M1298.7 1543.2V1571.2 M1380.6 1543.2V1557.7 M1462.4 1543.2V1571.2 M1544.3 1543.2V1557.7 M1626.2 1543.2V1571.2 M1708 1543.2V1557.7 M1789.9 1543.2V1571.2 M1871.8 1543.2V1557.7 M1953.6 1543.2V1571.2 M2035.5 1543.2V1557.7"/>
</g>
<g fill="#000">
<text x="353.5" y="1522.8" font-size="53.2" text-anchor="end" font-weight="normal" font-family='"Liberation Sans", sans-serif' >0</text>
<text x="338.5" y="1384.6" font-size="53.2" text-anchor="end" font-weight="normal" font-family='"Liberation Sans", sans-serif' >2000</text>
<text x="338.5" y="1239.6" font-size="53.2" text-anchor="end" font-weight="normal" font-family='"Liberation Sans", sans-serif' >4000</text>
<text x="338.5" y="1099.4" font-size="53.2" text-anchor="end" font-weight="normal" font-family='"Liberation Sans", sans-serif' >6000</text>
<text x="338.5" y="952.1" font-size="53.2" text-anchor="end" font-weight="normal" font-family='"Liberation Sans", sans-serif' >8000</text>
<text x="340" y="809.2" font-size="53.2" text-anchor="end" font-weight="normal" font-family='"Liberation Sans", sans-serif' >10,000</text>
<text x="340" y="670" font-size="53.2" text-anchor="end" font-weight="normal" font-family='"Liberation Sans", sans-serif' >12,000</text>
<text x="340" y="526.4" font-size="53.2" text-anchor="end" font-weight="normal" font-family='"Liberation Sans", sans-serif' >14,000</text>
<text x="340" y="381.7" font-size="53.2" text-anchor="end" font-weight="normal" font-family='"Liberation Sans", sans-serif' >16,000</text>
<text x="340" y="236.5" font-size="53.2" text-anchor="end" font-weight="normal" font-family='"Liberation Sans", sans-serif' >18,000</text>
<text x="480.1" y="1630" font-size="55" text-anchor="middle" font-weight="normal" font-family='"Liberation Sans", sans-serif' >560</text>
<text x="643.8" y="1630" font-size="55" text-anchor="middle" font-weight="normal" font-family='"Liberation Sans", sans-serif' >580</text>
<text x="807.5" y="1630" font-size="55" text-anchor="middle" font-weight="normal" font-family='"Liberation Sans", sans-serif' >600</text>
<text x="971.3" y="1630" font-size="55" text-anchor="middle" font-weight="normal" font-family='"Liberation Sans", sans-serif' >620</text>
<text x="1135" y="1630" font-size="55" text-anchor="middle" font-weight="normal" font-family='"Liberation Sans", sans-serif' >640</text>
<text x="1298.7" y="1630" font-size="55" text-anchor="middle" font-weight="normal" font-family='"Liberation Sans", sans-serif' >660</text>
<text x="1462.4" y="1630" font-size="55" text-anchor="middle" font-weight="normal" font-family='"Liberation Sans", sans-serif' >680</text>
<text x="1626.2" y="1630" font-size="55" text-anchor="middle" font-weight="normal" font-family='"Liberation Sans", sans-serif' >700</text>
<text x="1789.9" y="1630" font-size="55" text-anchor="middle" font-weight="normal" font-family='"Liberation Sans", sans-serif' >720</text>
<text x="1953.6" y="1630" font-size="55" text-anchor="middle" font-weight="normal" font-family='"Liberation Sans", sans-serif' >740</text>
<text transform="translate(119.8 838) rotate(-90)" font-size="69.3" text-anchor="middle" font-family='"Liberation Sans", sans-serif'>Intensity (a.u.)</text>
<text x="1122.5" y="1746" font-size="68" text-anchor="start" font-family='"Liberation Sans", sans-serif'><tspan font-family='"Liberation Serif", serif' font-size="73.4">λ</tspan><tspan x="1177.5">/ nm</tspan></text>
<text x="1275" y="123.3" font-size="68.7" text-anchor="middle" font-weight="normal" font-family='"Liberation Sans", sans-serif' >393: 550-750</text>
<text x="1275" y="220.3" font-size="68" text-anchor="middle" font-weight="bold" font-family='"Liberation Sans", sans-serif'>Eu.L<tspan font-size="44.9" dy="-32">1</tspan></text>
<text x="1275" y="303.7" font-size="68.7" text-anchor="middle" font-weight="normal" font-family='"Liberation Sans", sans-serif' >Addition eq HOCl</text>
<text x="547.5" y="1244" font-size="68" text-anchor="start" font-weight="normal" font-family='"Liberation Sans", sans-serif' >J = 0</text>
<text x="700" y="952" font-size="68" text-anchor="start" font-weight="normal" font-family='"Liberation Sans", sans-serif' >J = 1</text>
<text x="923" y="968" font-size="68" text-anchor="start" font-weight="normal" font-family='"Liberation Sans", sans-serif' >J = 2</text>
<text x="1189" y="1269" font-size="68" text-anchor="start" font-weight="normal" font-family='"Liberation Sans", sans-serif' >J = 3</text>
<text x="1447" y="560" font-size="68" text-anchor="start" font-weight="normal" font-family='"Liberation Sans", sans-serif' >J = 4</text>
<text x="470" y="240.5" font-size="46.9" text-anchor="start" font-weight="normal" font-family='"Liberation Sans", sans-serif' >5</text>
<text x="495.5" y="268.2" font-size="70" text-anchor="start" font-weight="normal" font-family='"Liberation Sans", sans-serif' >D</text>
<text x="546.5" y="287.2" font-size="46.9" text-anchor="start" font-weight="normal" font-family='"Liberation Sans", sans-serif' >0</text>
<text x="743" y="240.5" font-size="46.9" text-anchor="start" font-weight="normal" font-family='"Liberation Sans", sans-serif' >7</text>
<text x="769.5" y="268.2" font-size="70" text-anchor="start" font-weight="normal" font-family='"Liberation Sans", sans-serif' >F</text>
<text x="812" y="287.2" font-size="46.9" text-anchor="start" font-weight="normal" font-family='"Liberation Sans", sans-serif' >J</text>
<path d="M614.5 244.6H688" stroke="#000" stroke-width="2.2" fill="none"/>
<path d="M719 244.6L686 236L686 253.2Z" fill="#000"/>
<text x="1200" y="1885.6" font-size="82" text-anchor="middle" font-family='"Liberation Serif", serif'>(<tspan font-weight="bold">a</tspan>)</text>
</g>
<path d="M1934.5 40H2295V892.5H1934.5Z" fill="none" stroke="#5a5a5a" stroke-width="2.6"/>
<path d="M1942 85.4H2097.5" stroke="#f0047f" stroke-width="3.4" fill="none"/>
<text x="2116" y="105.8" font-size="67.3" text-anchor="start" font-weight="normal" font-family='"Liberation Sans", sans-serif' >0 eq</text>
<path d="M1942 169.7H2097.5" stroke="#ffaeb3" stroke-width="3.8" fill="none"/>
<text x="2116" y="190.6" font-size="67.3" text-anchor="start" font-weight="normal" font-family='"Liberation Sans", sans-serif' >1 eq</text>
<path d="M1942 254.2H2097.5" stroke="#f4d4a5" stroke-width="3.8" fill="none"/>
<text x="2116" y="275.4" font-size="67.3" text-anchor="start" font-weight="normal" font-family='"Liberation Sans", sans-serif' >4 eq</text>
<path d="M1942 338.5H2097.5" stroke="#f6efaa" stroke-width="3.8" fill="none"/>
<text x="2116" y="360.2" font-size="67.3" text-anchor="start" font-weight="normal" font-family='"Liberation Sans", sans-serif' >7 eq</text>
<path d="M1942 424H2097.5" stroke="#b0ec70" stroke-width="2.4" fill="none"/>
<text x="2116" y="445" font-size="67.3" text-anchor="start" font-weight="normal" font-family='"Liberation Sans", sans-serif' >10 eq</text>
<path d="M1942 508.5H2097.5" stroke="#5ee0a8" stroke-width="2.4" fill="none"/>
<text x="2116" y="529.8" font-size="67.3" text-anchor="start" font-weight="normal" font-family='"Liberation Sans", sans-serif' >13 eq</text>
<path d="M1942 592.5H2097.5" stroke="#52d8d2" stroke-width="2.4" fill="none"/>
<text x="2116" y="614.6" font-size="67.3" text-anchor="start" font-weight="normal" font-family='"Liberation Sans", sans-serif' >16 eq</text>
<path d="M1942 676.2H2097.5" stroke="#62c2ff" stroke-width="2.4" fill="none"/>
<text x="2116" y="699.4" font-size="67.3" text-anchor="start" font-weight="normal" font-family='"Liberation Sans", sans-serif' >19 eq</text>
<path d="M1942 763.3H2097.5" stroke="#a860f0" stroke-width="2.4" fill="none"/>
<text x="2116" y="784.2" font-size="67.3" text-anchor="start" font-weight="normal" font-family='"Liberation Sans", sans-serif' >22 eq</text>
<path d="M1942 847.3H2097.5" stroke="#c252e6" stroke-width="2.4" fill="none"/>
<text x="2116" y="869" font-size="67.3" text-anchor="start" font-weight="normal" font-family='"Liberation Sans", sans-serif' >25 eq</text>
<clipPath id="clipB"><rect x="439.8" y="1939.4" width="1604.2" height="1493.8"/></clipPath>
<g clip-path="url(#clipB)" fill="none" stroke-linejoin="round" stroke-linecap="round">
<polyline points="438.9,3367.4 465.6,3328.1 492.3,3345.8 519.1,3367.4 545.8,3358.8 572.5,3240.3 599.2,3004.6 625.9,3074.9 652.7,3287.2 679.4,3316.8 706.1,3300.3 732.8,3311.9 759.5,3330.5 786.3,3300.3 813,3219.6 839.7,2920.3 866.4,2805.9 893.1,2832.9 919.9,2893.4 946.6,2854.7 973.3,2858.1 1000,2977.4 1026.7,3026.3 1053.5,3009.4 1080.2,3022.7 1106.9,3118.6 1133.6,3203.3 1160.3,3270.5 1187.1,3281.3 1213.8,3292.1 1240.5,3332.5 1267.2,3351.3 1293.9,3281.3 1320.7,3324.4 1347.4,3315 1374.1,3296.1 1400.8,3301.5 1427.5,3293.4 1454.3,3165.6 1481,3046.5 1507.7,2818.2 1534.4,2664.2 1561.1,2672.2 1587.9,2804 1614.6,2884.7 1641.3,3021.9 1668,3138.4 1694.7,3200.2 1721.5,3205.6 1748.2,3151.8 1774.9,3111.5 1801.6,3054.9 1828.3,3184 1855.1,3200.2 1881.8,3240.6 1908.5,3263.4 1935.2,3262 1961.9,3319.9 1988.7,3322.6 2015.4,3297.1 2042.1,3333.4" stroke="#f0047f" stroke-width="3.2" stroke-opacity="1"/>
<polyline points="438.9,3367.4 465.6,3341.3 492.3,3363.5 519.1,3361.3 545.8,3351.4 572.5,3237.8 599.2,3009.5 625.9,3065 652.7,3281 679.4,3311.9 706.1,3304.5 732.8,3320.5 759.5,3324.2 786.3,3293.4 813,3200.8 839.7,2904.6 866.4,2805.9 893.1,2893.4 919.9,2893.5 946.6,2893.5 973.3,2893.5 1000,2937.1 1026.7,3011.1 1053.5,2989.3 1080.2,3001 1106.9,3108.2 1133.6,3200.8 1160.3,3265.2 1187.1,3278.6 1213.8,3341.9 1240.5,3308.2 1267.2,3313.6 1293.9,3283.5 1320.7,3305.6 1347.4,3286.7 1374.1,3284 1400.8,3294.7 1427.5,3249.1 1454.3,3157.6 1481,3015.7 1507.7,2793.5 1534.4,2631.8 1561.1,2664.2 1587.9,2742.2 1614.6,2841.7 1641.3,3003.3 1668,3145.3 1694.7,3178.7 1721.5,3177.4 1748.2,3122.2 1774.9,3075.2 1801.6,3068.4 1828.3,3202.9 1855.1,3210.9 1881.8,3246 1908.5,3264.7 1935.2,3291.6 1961.9,3288.9 1988.7,3313.1 2015.4,3280.9 2042.1,3307.8" stroke="#ff6e7a" stroke-width="2.1" stroke-opacity="1"/>
<polyline points="438.9,3363.5 465.6,3337.2 492.3,3359.4 519.1,3369.5 545.8,3353.4 572.5,3235.4 599.2,3015.7 625.9,3067.5 652.7,3274.9 679.4,3314.4 706.1,3307 732.8,3329.2 759.5,3321.8 786.3,3287.2 813,3176.1 839.7,2879.9 866.4,2774 893.1,2893.4 919.9,2910.2 946.6,2866.5 973.3,2903.5 1000,2937.1 1026.7,3031.2 1053.5,2969 1080.2,2997.7 1106.9,3095.9 1133.6,3194.6 1160.3,3262.5 1187.1,3277.3 1213.8,3294.6 1240.5,3309.4 1267.2,3311.9 1293.9,3279.8 1320.7,3304.5 1347.4,3284.7 1374.1,3282.3 1400.8,3287.2 1427.5,3250.2 1454.3,3151.4 1481,3009.5 1507.7,2787.4 1534.4,2619.8 1561.1,2604.9 1587.9,2688.4 1614.6,2787.4 1641.3,2991 1668,3126.3 1694.7,3127.6 1721.5,3167.9 1748.2,3120.6 1774.9,3041.5 1801.6,3054.9 1828.3,3162.6 1855.1,3186.7 1881.8,3237.8 1908.5,3272.8 1935.2,3246 1961.9,3294.4 1988.7,3294.4 2015.4,3294.4 2042.1,3291.6" stroke="#f0b050" stroke-width="2.1" stroke-opacity="1"/>
<polyline points="438.9,3355.1 465.6,3332.9 492.3,3348.9 519.1,3345.2 545.8,3342.7 572.5,3231.7 599.2,3013.2 625.9,3077.4 652.7,3268.7 679.4,3309.4 706.1,3299.5 732.8,3304.5 759.5,3314.4 786.3,3269.9 813,3139.1 839.7,2842.9 866.4,2748.7 893.1,2879.9 919.9,2910.2 946.6,2873.1 973.3,2826.1 1000,2866.5 1026.7,2904.1 1053.5,2904.1 1080.2,2984.1 1106.9,3044.6 1133.6,3149.6 1160.3,3227.6 1187.1,3274.9 1213.8,3292.1 1240.5,3307 1267.2,3309.4 1293.9,3274.9 1320.7,3302 1347.4,3281 1374.1,3231.7 1400.8,3284.7 1427.5,3244 1454.3,3114.4 1481,2916.9 1507.7,2719.5 1534.4,2531 1561.1,2588.8 1587.9,2645.4 1614.6,2768.8 1641.3,2941.6 1668,3040.4 1694.7,3089.9 1721.5,3108.7 1748.2,3111.5 1774.9,3106 1801.6,3068.4 1828.3,3135.6 1855.1,3149.1 1881.8,3262 1908.5,3221.7 1935.2,3235.1 1961.9,3213.6 1988.7,3313.1 2015.4,3279.8 2042.1,3287.2" stroke="#ece058" stroke-width="2.1" stroke-opacity="1"/>
<polyline points="438.9,3342.7 465.6,3331.1 492.3,3337.8 519.1,3341.3 545.8,3339.2 572.5,3234.1 599.2,3009.5 625.9,3083.6 652.7,3287.2 679.4,3324.2 706.1,3309.4 732.8,3309.4 759.5,3310.4 786.3,3253.1 813,3102.1 839.7,2816 866.4,2800.9 893.1,2893.4 919.9,2957.3 946.6,2942.1 973.3,2826.1 1000,2802.5 1026.7,2800.9 1053.5,2853 1080.2,3015.7 1106.9,3126.8 1133.6,3213.2 1160.3,3256.4 1187.1,3268.7 1213.8,3289.7 1240.5,3304.5 1267.2,3307 1293.9,3268.7 1320.7,3297.1 1347.4,3274.9 1374.1,3274.9 1400.8,3281 1427.5,3225.5 1454.3,3132.9 1481,2991 1507.7,2768.8 1534.4,2580.7 1561.1,2556.6 1587.9,2613 1614.6,2731.8 1641.3,2916.9 1668,3017.3 1694.7,3114 1721.5,3111.5 1748.2,3106 1774.9,3103.3 1801.6,3065.7 1828.3,3141 1855.1,3143.7 1881.8,3197.5 1908.5,3216.4 1935.2,3210.9 1961.9,3227.1 1988.7,3294.4 2015.4,3272.8 2042.1,3267.5" stroke="#9ce44e" stroke-width="2.1" stroke-opacity="1"/>
<polyline points="438.9,3319 465.6,3326.7 492.3,3336.6 519.1,3342.7 545.8,3348.9 572.5,3237.8 599.2,3003.3 625.9,3089.7 652.7,3293.4 679.4,3334.1 706.1,3314.4 732.8,3315.6 759.5,3304.5 786.3,3239.7 813,3065 839.7,2792.4 866.4,2836.2 893.1,2984.2 919.9,2970.8 946.6,2972.5 973.3,2785.8 1000,2710.1 1026.7,2708.4 1053.5,2818.2 1080.2,3040.4 1106.9,3145.3 1133.6,3225.5 1160.3,3260.1 1187.1,3262.5 1213.8,3293.4 1240.5,3287.2 1267.2,3297.1 1293.9,3262.5 1320.7,3287.2 1347.4,3268.7 1374.1,3268.7 1400.8,3282.3 1427.5,3237.8 1454.3,3145.3 1481,3028 1507.7,2842.9 1534.4,2661.5 1561.1,2521.5 1587.9,2583.5 1614.6,2725.6 1641.3,2960.1 1668,3098 1694.7,3084.6 1721.5,3149.1 1748.2,3157.1 1774.9,3100.7 1801.6,3063 1828.3,3143.7 1855.1,3181.3 1881.8,3224.4 1908.5,3232.4 1935.2,3264.7 1961.9,3243.3 1988.7,3302.4 2015.4,3270.2 2042.1,3278.2" stroke="#38d490" stroke-width="2.1" stroke-opacity="1"/>
<polyline points="438.9,3329.2 465.6,3300.9 492.3,3319 519.1,3323.1 545.8,3337.2 572.5,3235.4 599.2,2981.2 625.9,3095.9 652.7,3297.1 679.4,3332.9 706.1,3311.9 732.8,3311.9 759.5,3299.5 786.3,3230.4 813,3040.4 839.7,2785.8 866.4,2853 893.1,2987.5 919.9,3064.8 946.6,2984.1 973.3,2805.9 1000,2615.8 1026.7,2612.5 1053.5,2805.9 1080.2,3065 1106.9,3163.8 1133.6,3244 1160.3,3252.6 1187.1,3256.4 1213.8,3299.5 1240.5,3293.4 1267.2,3299.5 1293.9,3255.1 1320.7,3262.5 1347.4,3265 1374.1,3256.4 1400.8,3277.3 1427.5,3244 1454.3,3163.8 1481,3102.1 1507.7,2954 1534.4,2744.2 1561.1,2578 1587.9,2589.9 1614.6,2744.2 1641.3,2978.7 1668,3065 1694.7,3135.6 1721.5,3116.8 1748.2,3114 1774.9,3111.5 1801.6,3115.4 1828.3,3154.4 1855.1,3192.2 1881.8,3227.1 1908.5,3229.8 1935.2,3246 1961.9,3219.1 1988.7,3224.4 2015.4,3262 2042.1,3246" stroke="#30ccc8" stroke-width="2.1" stroke-opacity="1"/>
<polyline points="438.9,3332.9 465.6,3323.1 492.3,3327.1 519.1,3327.1 545.8,3329.2 572.5,3231.7 599.2,2997.2 625.9,3102.1 652.7,3294.6 679.4,3324.2 706.1,3287.2 732.8,3276.7 759.5,3293.5 786.3,3219.3 813,3021.9 839.7,2779 866.4,2879.9 893.1,3040.4 919.9,3091.7 946.6,3051.4 973.3,2818.2 1000,2577.2 1026.7,2565.4 1053.5,2812 1080.2,3089.7 1106.9,3188.5 1133.6,3265.2 1160.3,3243.6 1187.1,3242.3 1213.8,3321.6 1240.5,3282.6 1267.2,3316.3 1293.9,3257.1 1320.7,3289.4 1347.4,3265.2 1374.1,3216.7 1400.8,3259.8 1427.5,3243.6 1454.3,3179.1 1481,3111.9 1507.7,2991 1534.4,2768.8 1561.1,2607.7 1587.9,2591.5 1614.6,2756.5 1641.3,3009.5 1668,3114 1694.7,3100.7 1721.5,3116.8 1748.2,3162.6 1774.9,3124.9 1801.6,3116.8 1828.3,3181.3 1855.1,3189.5 1881.8,3243.3 1908.5,3244.6 1935.2,3237.8 1961.9,3272.8 1988.7,3310.5 2015.4,3224.4 2042.1,3202.9" stroke="#40acfc" stroke-width="2.1" stroke-opacity="1"/>
<polyline points="438.9,3349.3 465.6,3325.1 492.3,3335.2 519.1,3351.4 545.8,3329.2 572.5,3225.5 599.2,2993.5 625.9,3089.7 652.7,3289.7 679.4,3318.1 706.1,3279.8 732.8,3284.7 759.5,3294.6 786.3,3213.2 813,3003.3 839.7,2765.5 866.4,2892.3 893.1,3073.2 919.9,3076.5 946.6,3037.9 973.3,2818.2 1000,2563.7 1026.7,2565.4 1053.5,2824.4 1080.2,3095.9 1106.9,3198.3 1133.6,3243.6 1160.3,3249.1 1187.1,3249.1 1213.8,3279.9 1240.5,3278.6 1267.2,3289.4 1293.9,3257.1 1320.7,3278.6 1347.4,3265.2 1374.1,3271.9 1400.8,3278.6 1427.5,3238.3 1454.3,3184.5 1481,3130.7 1507.7,3015.7 1534.4,2793.5 1561.1,2599.5 1587.9,2645.4 1614.6,2775 1641.3,3015.7 1668,3116.8 1694.7,3119.5 1721.5,3143.7 1748.2,3132.9 1774.9,3135.6 1801.6,3162.6 1828.3,3184 1855.1,3167.9 1881.8,3229.8 1908.5,3221.7 1935.2,3219.1 1961.9,3240.6 1988.7,3240.6 2015.4,3243.3 2042.1,3237.8" stroke="#8c42ec" stroke-width="2.1" stroke-opacity="1"/>
<polyline points="438.9,3311 465.6,3307.9 492.3,3309.9 519.1,3322 545.8,3307 572.5,3221.8 599.2,2990.3 625.9,3083.6 652.7,3284.7 679.4,3309.4 706.1,3276.7 732.8,3287.2 759.5,3293.5 786.3,3206.1 813,2994.2 839.7,2751.4 866.4,2904.6 893.1,3068.1 919.9,3078.3 946.6,3048 973.3,2818.2 1000,2552 1026.7,2515.8 1053.5,2819.4 1080.2,3102.1 1106.9,3202.8 1133.6,3249.1 1160.3,3249.1 1187.1,3234.3 1213.8,3270.5 1240.5,3274.6 1267.2,3273.3 1293.9,3255.7 1320.7,3276 1347.4,3232.9 1374.1,3227.5 1400.8,3254.4 1427.5,3224.9 1454.3,3206 1481,3162.9 1507.7,3040.4 1534.4,2818.2 1561.1,2570 1587.9,2602.2 1614.6,2768.8 1641.3,3009.5 1668,3119.4 1694.7,3146.4 1721.5,3157.1 1748.2,3154.4 1774.9,3159.8 1801.6,3135.6 1828.3,3149.1 1855.1,3149.1 1881.8,3216.4 1908.5,3219.1 1935.2,3213.6 1961.9,3227.1 1988.7,3280.9 2015.4,3227.1 2042.1,3223" stroke="#b23ee0" stroke-width="2.1" stroke-opacity="1"/>
</g>
<g stroke="#000" stroke-width="4.6" fill="none" stroke-linecap="butt">
<path d="M439.8 2137.1 V3433.2 H2044"/>
<path d="M439.8 3373.6H412.5 M439.8 3250.2H425.4 M439.8 3126.8H412.5 M439.8 3003.3H425.4 M439.8 2879.9H412.5 M439.8 2756.5H425.4 M439.8 2633.1H412.5 M439.8 2509.7H425.4 M439.8 2386.2H412.5 M439.8 2262.8H425.4 M439.8 2139.4H412.5 M572.5 3433.2V3460.5 M839.7 3433.2V3447.6 M1106.9 3433.2V3460.5 M1374.1 3433.2V3447.6 M1641.3 3433.2V3460.5 M1908.5 3433.2V3447.6"/>
</g>
<g fill="#000">
<text x="395" y="3387.4" font-size="52" text-anchor="end" font-weight="normal" font-family='"Liberation Sans", sans-serif' >0</text>
<text x="382" y="3138.9" font-size="52" text-anchor="end" font-weight="normal" font-family='"Liberation Sans", sans-serif' >2000</text>
<text x="382" y="2895" font-size="52" text-anchor="end" font-weight="normal" font-family='"Liberation Sans", sans-serif' >4000</text>
<text x="382" y="2648.1" font-size="52" text-anchor="end" font-weight="normal" font-family='"Liberation Sans", sans-serif' >6000</text>
<text x="382" y="2401.7" font-size="52" text-anchor="end" font-weight="normal" font-family='"Liberation Sans", sans-serif' >8000</text>
<text x="383" y="2153.2" font-size="52" text-anchor="end" font-weight="normal" font-family='"Liberation Sans", sans-serif' >10,000</text>
<text x="572.5" y="3517" font-size="55" text-anchor="middle" font-weight="normal" font-family='"Liberation Sans", sans-serif' >580</text>
<text x="1106.9" y="3517" font-size="55" text-anchor="middle" font-weight="normal" font-family='"Liberation Sans", sans-serif' >600</text>
<text x="1641.3" y="3517" font-size="55" text-anchor="middle" font-weight="normal" font-family='"Liberation Sans", sans-serif' >620</text>
<text transform="translate(166.4 2741.3) rotate(-90)" font-size="67.8" text-anchor="middle" font-family='"Liberation Sans", sans-serif'>Intensity (a.u.)</text>
<text x="1147.5" y="3630.3" font-size="67" text-anchor="start" font-family='"Liberation Sans", sans-serif'><tspan font-family='"Liberation Serif", serif' font-size="72.4">λ</tspan><tspan x="1202">/ nm</tspan></text>
<text x="1298" y="2041.8" font-size="67.4" text-anchor="middle" font-weight="normal" font-family='"Liberation Sans", sans-serif' >393: 550-750</text>
<text x="1298" y="2136" font-size="67" text-anchor="middle" font-weight="bold" font-family='"Liberation Sans", sans-serif'>Eu.L<tspan font-size="44.2" dy="-28.1">1</tspan></text>
<text x="1298" y="2218.3" font-size="67.4" text-anchor="middle" font-weight="normal" font-family='"Liberation Sans", sans-serif' >Addition eq HOCl</text>
<text x="539" y="2906.3" font-size="67" text-anchor="start" font-weight="normal" font-family='"Liberation Sans", sans-serif' >J = 0</text>
<text x="929" y="2423.5" font-size="67" text-anchor="start" font-weight="normal" font-family='"Liberation Sans", sans-serif' >J = 1</text>
<text x="1483" y="2452" font-size="67" text-anchor="start" font-weight="normal" font-family='"Liberation Sans", sans-serif' >J = 2</text>
<text x="510" y="2155.7" font-size="46.2" text-anchor="start" font-weight="normal" font-family='"Liberation Sans", sans-serif' >5</text>
<text x="536.8" y="2184" font-size="69" text-anchor="start" font-weight="normal" font-family='"Liberation Sans", sans-serif' >D</text>
<text x="585" y="2202" font-size="46.2" text-anchor="start" font-weight="normal" font-family='"Liberation Sans", sans-serif' >0</text>
<text x="779" y="2155.7" font-size="46.2" text-anchor="start" font-weight="normal" font-family='"Liberation Sans", sans-serif' >7</text>
<text x="803" y="2184" font-size="69" text-anchor="start" font-weight="normal" font-family='"Liberation Sans", sans-serif' >F</text>
<text x="845" y="2202" font-size="46.2" text-anchor="start" font-weight="normal" font-family='"Liberation Sans", sans-serif' >J</text>
<path d="M648.5 2167.3H713" stroke="#000" stroke-width="2.2" fill="none"/>
<path d="M744 2167.3L711 2158.9L711 2175.7Z" fill="#000"/>
<text x="1200" y="3814" font-size="82" text-anchor="middle" font-family='"Liberation Serif", serif'>(<tspan font-weight="bold">b</tspan>)</text>
</g>
<path d="M1943.7 1974V2796H2297.3V1974" fill="none" stroke="#5a5a5a" stroke-width="2.6"/>
<path d="M1951 2004.4H2103.5" stroke="#f0047f" stroke-width="4" fill="none"/>
<text x="2121" y="2025.5" font-size="66.3" text-anchor="start" font-weight="normal" font-family='"Liberation Sans", sans-serif' >0 eq</text>
<path d="M1951 2087.8H2103.5" stroke="#ffb8bb" stroke-width="4.4" fill="none"/>
<text x="2121" y="2108.4" font-size="66.3" text-anchor="start" font-weight="normal" font-family='"Liberation Sans", sans-serif' >1 eq</text>
<path d="M1951 2170.9H2103.5" stroke="#f0c27e" stroke-width="2.4" fill="none"/>
<text x="2121" y="2191.3" font-size="66.3" text-anchor="start" font-weight="normal" font-family='"Liberation Sans", sans-serif' >4 eq</text>
<path d="M1951 2252.5H2103.5" stroke="#f4eb98" stroke-width="3" fill="none"/>
<text x="2121" y="2274.2" font-size="66.3" text-anchor="start" font-weight="normal" font-family='"Liberation Sans", sans-serif' >7 eq</text>
<path d="M1951 2336.8H2103.5" stroke="#ccf3a2" stroke-width="4" fill="none"/>
<text x="2121" y="2357.1" font-size="66.3" text-anchor="start" font-weight="normal" font-family='"Liberation Sans", sans-serif' >10 eq</text>
<path d="M1951 2420.2H2103.5" stroke="#5ee0a8" stroke-width="2.4" fill="none"/>
<text x="2121" y="2440" font-size="66.3" text-anchor="start" font-weight="normal" font-family='"Liberation Sans", sans-serif' >13 eq</text>
<path d="M1951 2501.5H2103.5" stroke="#52d8d2" stroke-width="2.4" fill="none"/>
<text x="2121" y="2522.9" font-size="66.3" text-anchor="start" font-weight="normal" font-family='"Liberation Sans", sans-serif' >16 eq</text>
<path d="M1951 2584.3H2103.5" stroke="#9ed9ff" stroke-width="4.4" fill="none"/>
<text x="2121" y="2605.8" font-size="66.3" text-anchor="start" font-weight="normal" font-family='"Liberation Sans", sans-serif' >19 eq</text>
<path d="M1951 2668.3H2103.5" stroke="#c99cf6" stroke-width="4.4" fill="none"/>
<text x="2121" y="2688.7" font-size="66.3" text-anchor="start" font-weight="normal" font-family='"Liberation Sans", sans-serif' >22 eq</text>
<path d="M1951 2750.5H2103.5" stroke="#c252e6" stroke-width="2.4" fill="none"/>
<text x="2121" y="2771.6" font-size="66.3" text-anchor="start" font-weight="normal" font-family='"Liberation Sans", sans-serif' >25 eq</text>
</svg></body></html>
